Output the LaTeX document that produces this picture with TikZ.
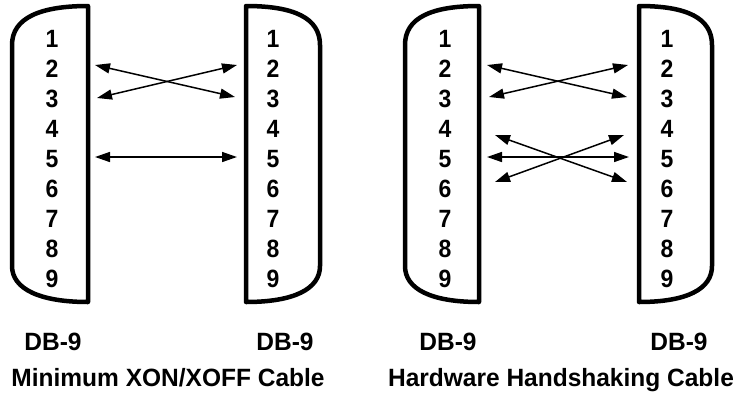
\documentclass[tikz,border=0pt]{standalone}
\usepackage{fontspec}
\setmainfont{Liberation Sans}
\usetikzlibrary{arrows.meta}
\begin{document}
\begin{tikzpicture}[x=1pt,y=-1pt,
  conn/.style={line width=4.5pt, line join=round},
  pin/.style={font=\fontsize{25}{25}\selectfont\bfseries, anchor=base, inner sep=0pt, xscale=0.92},
  lbl/.style={font=\fontsize{25}{25}\selectfont\bfseries, anchor=base, inner sep=0pt, xscale=0.98},
  wire/.style={line width=1.5pt, {Triangle[length=15pt,width=10pt]}-{Triangle[length=15pt,width=10pt]}}
]
\useasboundingbox (0,0) rectangle (739,397);
% connector shells
\draw[conn] (88,6) .. controls (40,6) and (12,18) .. (12,45) -- (12,266) .. controls (12,289) and (40,302) .. (88,302) -- cycle;
\draw[conn] (246,6) .. controls (294,6) and (320,18) .. (320,45) -- (320,266) .. controls (320,289) and (294,302) .. (246,302) -- cycle;
\draw[conn] (479,6) .. controls (431,6) and (405,18) .. (405,45) -- (405,266) .. controls (405,289) and (431,302) .. (479,302) -- cycle;
\draw[conn] (639,6) .. controls (687,6) and (712,18) .. (712,45) -- (712,266) .. controls (712,289) and (687,302) .. (639,302) -- cycle;
% pin numbers
\foreach \i in {1,...,9}{
  \node[pin] (a\i) at (52,17+30*\i) {\i};
  \node[pin] (b\i) at (273,17+30*\i) {\i};
  \node[pin] (c\i) at (445,17+30*\i) {\i};
  \node[pin] (d\i) at (667,17+30*\i) {\i};
}
% wire end points
\coordinate (pal2) at (95,65);
\coordinate (pal3) at (97,98);
\coordinate (pal5) at (95,157);
\coordinate (pbr2) at (237,65);
\coordinate (pbr3) at (235,97);
\coordinate (pbr5) at (237,157);
\coordinate (pcl2) at (487,65);
\coordinate (pcl3) at (489,97);
\coordinate (pcl4) at (495,135);
\coordinate (pcl5) at (487,157);
\coordinate (pcl6) at (495,182);
\coordinate (pdr2) at (628,65);
\coordinate (pdr3) at (627,97);
\coordinate (pdr4) at (624,135);
\coordinate (pdr5) at (629,157);
\coordinate (pdr6) at (627,182);
% wires
\draw[wire] (pal2) -- (pbr3);
\draw[wire] (pal3) -- (pbr2);
\draw[wire] (pal5) -- (pbr5);
\draw[wire] (pcl2) -- (pdr3);
\draw[wire] (pcl3) -- (pdr2);
\draw[wire] (pcl5) -- (pdr5);
\draw[wire] (pcl4) -- (pdr6);
\draw[wire] (pcl6) -- (pdr4);
% labels
\node[lbl] (dba) at (53,350) {DB-9};
\node[lbl] (dbb) at (285,350) {DB-9};
\node[lbl] (dbc) at (448,350) {DB-9};
\node[lbl] (dbd) at (679,350) {DB-9};
\node[lbl] (capa) at (168,386) {Minimum XON/XOFF Cable};
\node[lbl] (capb) at (561,386) {Hardware Handshaking Cable};
\end{tikzpicture}
\end{document}
